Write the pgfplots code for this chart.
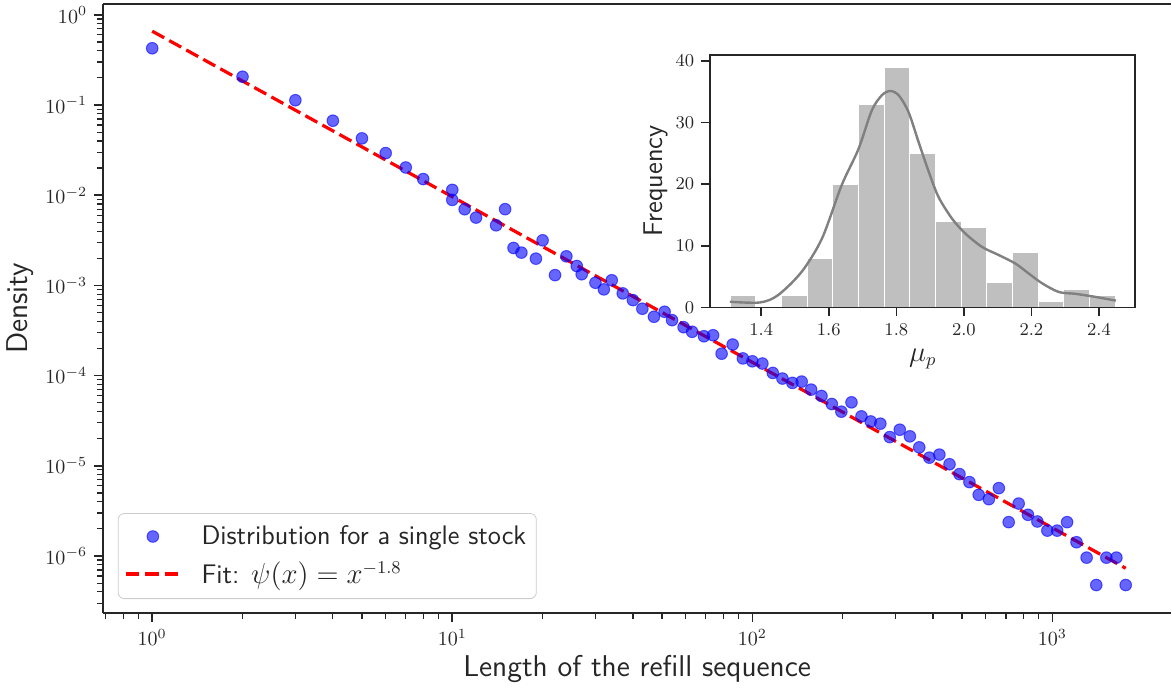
\documentclass[border=0pt]{standalone}
\usepackage{pgfplots}
\pgfplotsset{compat=1.18}
\definecolor{ink}{HTML}{262626}
\definecolor{histgray}{HTML}{BFBFBF}
\definecolor{kdegray}{HTML}{808080}
\pgfplotsset{
  markleg/.style={legend image code/.code={\draw[mark repeat=2,mark phase=2,##1] plot coordinates {(0pt,0pt) (13.5pt,0pt) (27pt,0pt)};}},
  lineleg/.style={legend image code/.code={\draw[##1] (0pt,0pt) -- (27pt,0pt);}},
}

\begin{document}
\begin{tikzpicture}
\begin{axis}[
  scale only axis, width=533pt, height=304pt,
  xmode=log, ymode=log,
  xmin=0.686, xmax=2487, ymin=2.33e-7, ymax=1.325,
  axis x line*=bottom, axis y line*=left,
  xtick pos=bottom, ytick pos=left,
  axis line style={-, ink, line width=0.85pt},
  tick align=outside, major tick length=4.5pt, minor tick length=3pt,
  every major tick/.style={ink, line width=0.8pt},
  every minor tick/.style={ink, line width=0.6pt},
  tick label style={font=\fontsize{10}{12}\selectfont, text=ink},
  xlabel={Length of the refill sequence}, ylabel={Density},
  label style={font=\sffamily\fontsize{15}{18}\selectfont, text=ink},
  xlabel style={yshift=2pt}, ylabel style={yshift=-1pt},
  legend style={at={(0.0138,0.023)}, anchor=south west, draw=black!20, rounded corners=3pt,
    fill=white, fill opacity=0.8, text opacity=1, text=ink,
    font=\sffamily\fontsize{13.4}{16}\selectfont, inner xsep=3pt, inner ysep=4pt,
    /tikz/column sep=8pt, /tikz/row sep=3pt},
  legend cell align=left,
  after end axis/.code={\draw[ink, line width=0.85pt] (rel axis cs:0,1) -- (rel axis cs:1,1);},
]
\addplot[only marks, mark=*, mark size=2.9pt,
  mark options={fill=blue, draw=blue, opacity=0.6, line width=0.5pt}, markleg]
coordinates {
(1,0.426) (2,0.206) (3,0.113) (4,0.067) (5,0.0427) (6,0.0293) (7,0.0203) (8,0.0151)
(10,0.01146) (10,0.00887) (11,0.00699) (12,0.00565) (14,0.00464) (15,0.0070)
(16,0.0026) (17,0.00231) (19,0.00198) (20,0.00316) (22,0.0013) (24,0.0021)
(26,0.00164) (27,0.00133) (30,0.00107) (32,0.000903) (34,0.00114) (37,0.000815)
(40,0.000687) (43,0.000551) (47,0.000449) (51,0.00051) (54,0.000412) (59,0.000344)
(63,0.000306) (69,0.000273) (74,0.00028) (79,0.000175) (86,0.000221) (93,0.000155)
(100,0.000144) (108,0.000136) (117,0.000107) (126,9.27e-5) (136,8.3e-5) (146,8.58e-5)
(157,6.99e-5) (170,5.94e-5) (184,4.84e-5) (198,3.98e-5) (214,5.05e-5) (231,3.53e-5)
(248,3.1e-5) (267,2.93e-5) (287,2.08e-5) (310,2.51e-5) (335,2.12e-5) (360,1.6e-5)
(389,1.23e-5) (420,1.33e-5) (454,1.04e-5) (490,8.08e-6) (529,6.59e-6) (568,4.76e-6)
(614,4.26e-6) (663,5.65e-6) (715,2.37e-6) (772,3.81e-6) (829,2.86e-6) (891,2.41e-6)
(962,1.91e-6) (1037,1.91e-6) (1119,2.37e-6) (1203,1.42e-6) (1300,9.58e-7)
(1400,4.76e-7) (1513,9.58e-7) (1634,9.58e-7) (1755,4.76e-7)
};
\addlegendentry{Distribution for a single stock}
\addplot[red, line width=1.6pt, dash pattern=on 6.8pt off 2.9pt, lineleg]
coordinates {(1,0.659) (1755,7.3e-7)};
\addlegendentry{Fit: $\psi(x) = x^{-1.8}$}
\end{axis}

\begin{axis}[
  at={(303pt,152.5pt)}, anchor=south west,
  scale only axis, width=212pt, height=126pt,
  xmin=1.249, xmax=2.507, ymin=0, ymax=40.95,
  axis line style={ink, line width=0.85pt},
  axis background/.style={fill=white},
  axis on top,
  tick align=outside, xtick pos=bottom, ytick pos=left, major tick length=4.5pt,
  every major tick/.style={ink, line width=0.8pt},
  xtick={1.4,1.6,1.8,2.0,2.2,2.4}, ytick={0,10,20,30,40},
  xticklabel style={/pgf/number format/.cd, fixed, fixed zerofill, precision=1},
  tick label style={font=\fontsize{9}{11}\selectfont, text=ink},
  xlabel={$\mu_p$}, ylabel={\sffamily Frequency},
  label style={font=\fontsize{13.5}{16}\selectfont, text=ink},
  ylabel style={yshift=-3pt},
]
\addplot[ybar interval, fill=histgray, draw=white, line width=0.6pt] coordinates {
(1.308,2) (1.384,0) (1.460,2) (1.536,8) (1.612,20) (1.688,33) (1.764,39) (1.840,25)
(1.916,14) (1.992,13) (2.068,4) (2.144,9) (2.220,1) (2.296,3) (2.372,2) (2.448,2)
};
\addplot[smooth, kdegray, line width=1.2pt] coordinates {
(1.307,0.92) (1.396,0.8) (1.45,2.0) (1.52,5.8) (1.58,11.2) (1.638,19.8) (1.688,25.7)
(1.727,31.9) (1.757,34.4) (1.782,35.1) (1.807,34.4) (1.836,31.7) (1.866,26.8)
(1.896,22.0) (1.925,17.9) (1.965,14.4) (2.004,12.0) (2.054,9.8) (2.103,8.5)
(2.153,7.1) (2.192,5.5) (2.232,3.9) (2.281,2.5) (2.331,2.2) (2.39,1.7) (2.45,1.1)
};
\end{axis}
\end{tikzpicture}
\end{document}
